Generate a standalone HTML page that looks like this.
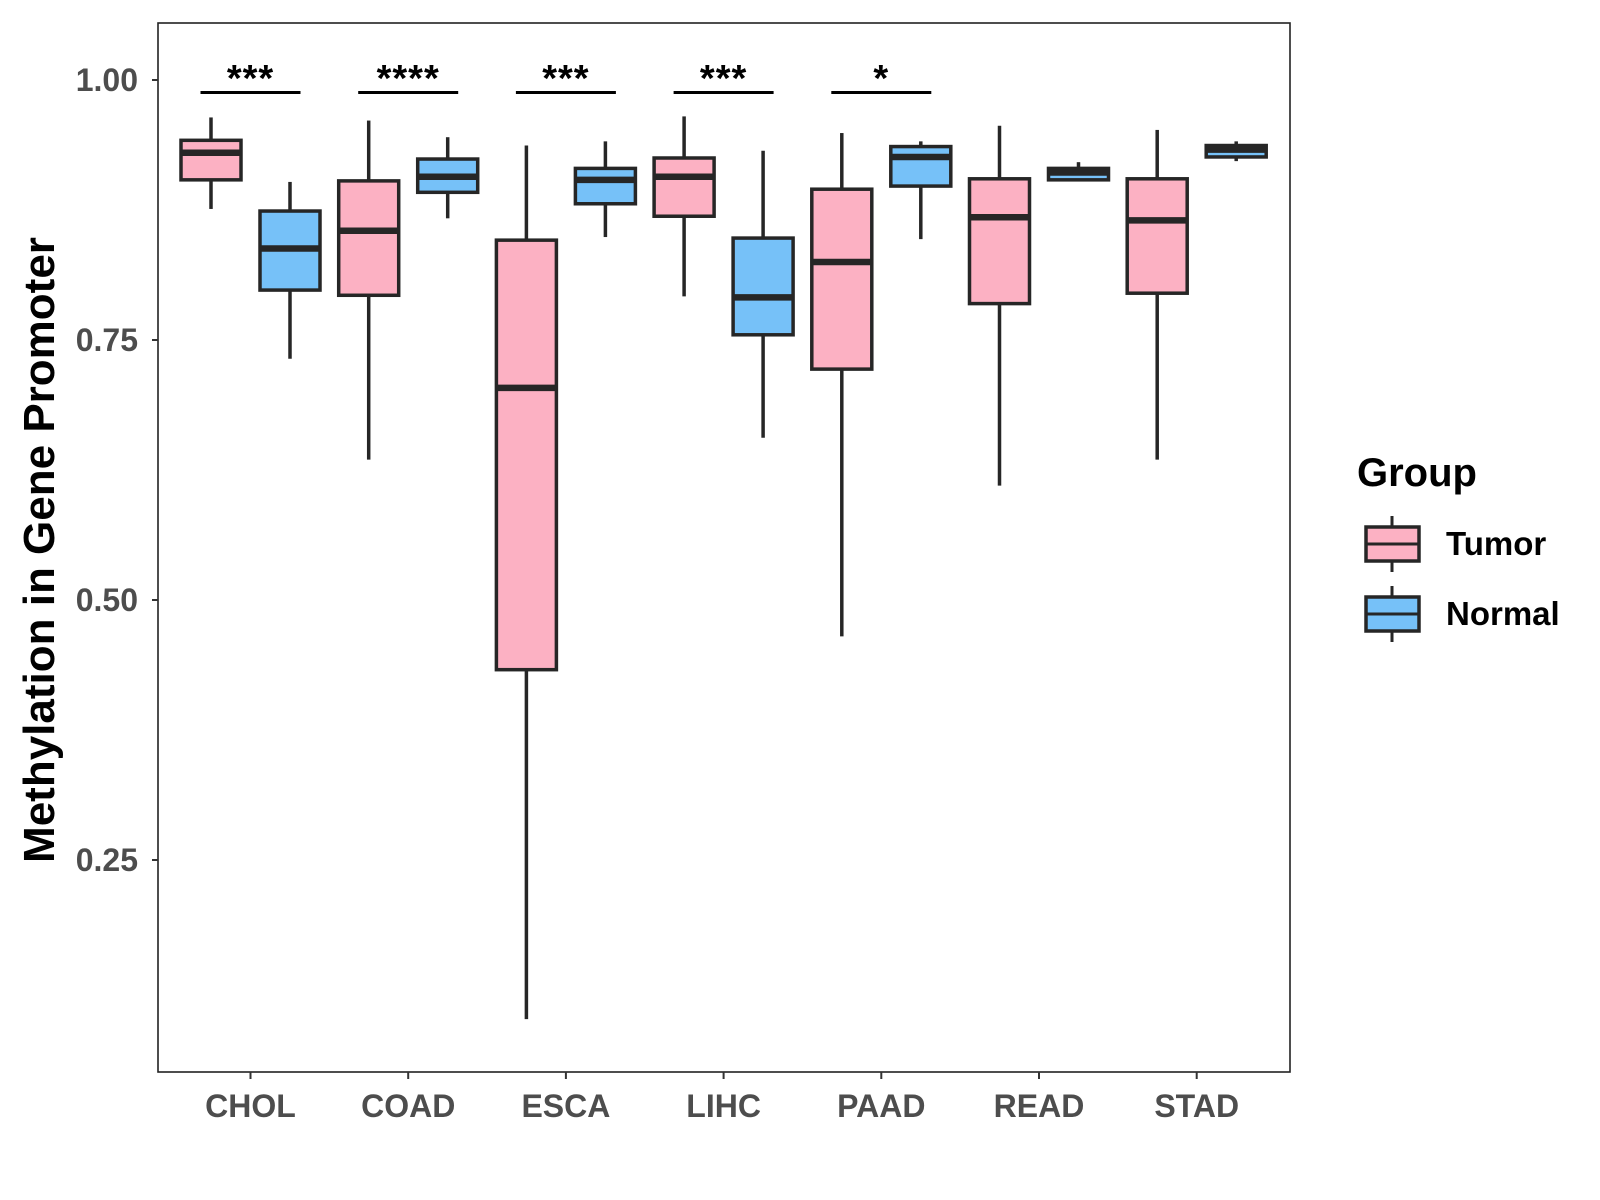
<!DOCTYPE html>
<html><head><meta charset="utf-8"><style>body{margin:0;background:#fff}svg{display:block;font-family:"Liberation Sans",Arial,sans-serif}</style></head>
<body>
<svg id="chart" width="1600" height="1200" viewBox="0 0 1600 1200"></svg>
<script>
const categories=["CHOL","COAD","ESCA","LIHC","PAAD","READ","STAD"];
// [lower whisker, Q1, median, Q3, upper whisker]
const tumorStats=[[0.876,0.904,0.930,0.942,0.964],[0.635,0.793,0.855,0.903,0.961],[0.097,0.433,0.704,0.846,0.937],[0.792,0.869,0.907,0.925,0.965],[0.465,0.722,0.825,0.895,0.949],[0.610,0.785,0.868,0.905,0.956],[0.635,0.795,0.865,0.905,0.952]];
const normalStats=[[0.732,0.798,0.838,0.874,0.902],[0.867,0.892,0.907,0.924,0.945],[0.849,0.881,0.904,0.915,0.941],[0.656,0.755,0.791,0.848,0.932],[0.847,0.898,0.926,0.936,0.941],[0.904,0.904,0.911,0.915,0.921],[0.922,0.926,0.933,0.937,0.941]];
const sigLabels=["***","****","***","***","*","",""];
const yTicks=[0.25,0.50,0.75,1.00];
const yTickLabels=["0.25","0.50","0.75","1.00"];

const svg=document.getElementById('chart');
const NS="http://www.w3.org/2000/svg";
const L=158,R=1290,T=23,B=1072;
function y(v){return 80+(1-v)*1040;}
function x(i){return 250.5+i*157.7;}
function mk(tag,attrs,parent){const e=document.createElementNS(NS,tag);for(const k in attrs)e.setAttribute(k,attrs[k]);(parent||svg).appendChild(e);return e;}

const panel=mk('rect',{x:L,y:T,width:R-L,height:B-T,fill:'#fff',stroke:'#222','stroke-width':1.6});



yTicks.forEach((t,i)=>{
  const tk=mk('line',{x1:L-6,x2:L,y1:y(t),y2:y(t),stroke:'#333','stroke-width':2});
  
  
  const tx=mk('text',{x:L-20,y:y(t)+11,'text-anchor':'end','font-size':32,'font-weight':'bold',fill:'#4d4d4d'});
  tx.textContent=yTickLabels[i];
  
  
});

function drawBox(s,cx,fill,name){
  const g=mk('g',{});
  
  
  const hw=30;
  mk('line',{x1:cx,x2:cx,y1:y(s[4]),y2:y(s[3]),stroke:'#262626','stroke-width':3.5},g);
  mk('line',{x1:cx,x2:cx,y1:y(s[1]),y2:y(s[0]),stroke:'#262626','stroke-width':3.5},g);
  mk('rect',{x:cx-hw,y:y(s[3]),width:2*hw,height:Math.max(y(s[1])-y(s[3]),1),fill:fill,stroke:'#262626','stroke-width':3.5},g);
  mk('line',{x1:cx-hw,x2:cx+hw,y1:y(s[2]),y2:y(s[2]),stroke:'#262626','stroke-width':6.5},g);
}

categories.forEach((c,i)=>{
  const cx=x(i);
  drawBox(tumorStats[i],cx-39.5,'#fcb1c3','tumor-box-'+c.toLowerCase());
  drawBox(normalStats[i],cx+39.5,'#76c1f8','normal-box-'+c.toLowerCase());
  const tk=mk('line',{x1:cx,x2:cx,y1:B,y2:B+7,stroke:'#333','stroke-width':2});
  
  
  const lb=mk('text',{x:cx,y:1117,'text-anchor':'middle','font-size':32,'font-weight':'bold',fill:'#4d4d4d'});
  lb.textContent=c;
  
  
  if(sigLabels[i]){
    const br=mk('line',{x1:cx-50,x2:cx+50,y1:92.5,y2:92.5,stroke:'#000','stroke-width':3});
    
    
    const st=mk('text',{x:cx,y:91,'text-anchor':'middle','font-size':38,'font-weight':'bold',fill:'#000','letter-spacing':'1'});
    st.textContent=sigLabels[i];
    
    
  }
});

const yt=mk('text',{x:0,y:0,transform:'translate(54,550) rotate(-90)','text-anchor':'middle','font-size':44,'font-weight':'bold',fill:'#000'});
yt.textContent='Methylation in Gene Promoter';



const lt=mk('text',{x:1357,y:486,'font-size':40,'font-weight':'bold',fill:'#000'});
lt.textContent='Group';



[['Tumor','#fcb1c3',544],['Normal','#76c1f8',614]].forEach(([n,f,cy])=>{
  const g=mk('g',{});
  
  
  mk('line',{x1:1392,x2:1392,y1:cy-28,y2:cy+28,stroke:'#262626','stroke-width':3},g);
  mk('rect',{x:1366,y:cy-17,width:53,height:34,fill:f,stroke:'#262626','stroke-width':3.5},g);
  mk('line',{x1:1366,x2:1419,y1:cy,y2:cy,stroke:'#262626','stroke-width':3},g);
  const t=mk('text',{x:1446,y:cy+11,'font-size':33,'font-weight':'bold',fill:'#000'},g);
  t.textContent=n;
});
</script>
</body></html>
